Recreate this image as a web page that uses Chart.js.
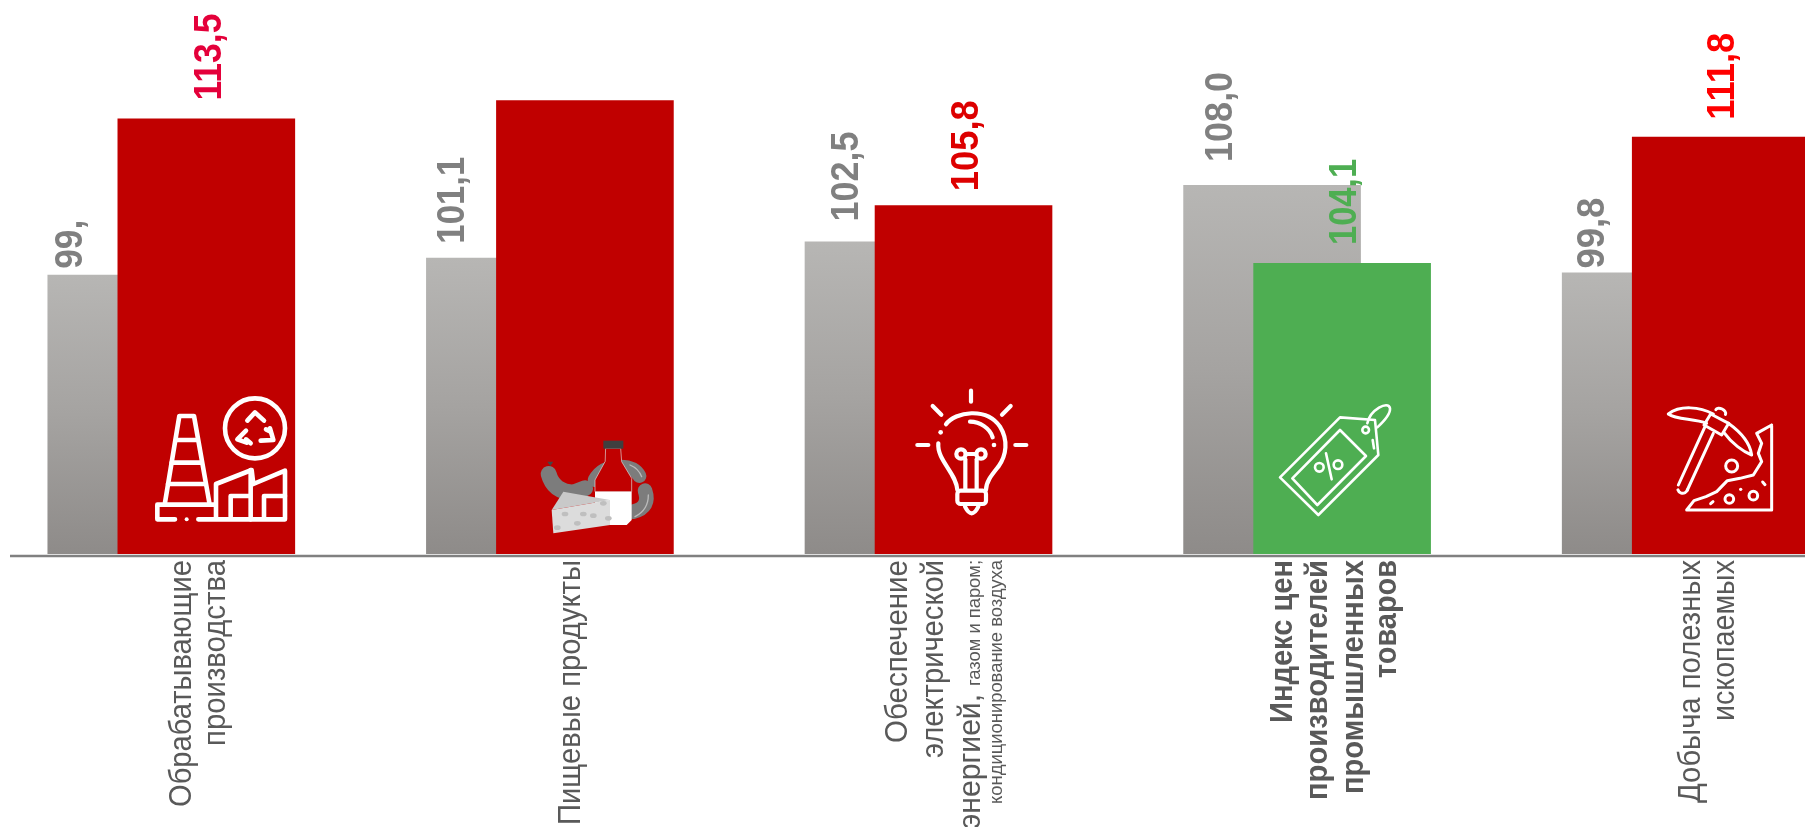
<!DOCTYPE html>
<html><head><meta charset="utf-8">
<style>html,body{margin:0;padding:0;background:#fff;overflow:hidden;width:1805px;height:827px}
canvas{position:absolute;left:-18px;top:0}</style>
<script src="https://cdn.jsdelivr.net/npm/chart.js@4"></script></head>
<body><canvas id="c" width="1893" height="827"></canvas>
<script>
// ---- data ----
const categories = ['Обрабатывающие производства','Пищевые продукты','Обеспечение электрической энергией, газом и паром; кондиционирование воздуха','Индекс цен производителей промышленных товаров','Добыча полезных ископаемых'];
const baseValues = [99.6,101.2,102.7,108.0,99.8];     // grey bars, height as drawn
const currentValues = [114.2,115.9,106.1,100.7,112.5]; // front bars, height as drawn
const baseLabels = ['99,','101,1','102,5','108,0','99,8'];
const currentLabels = ['113,5',null,'105,8','104,1','111,8'];
const tickLines = [
  [['Обрабатывающие'],['производства']],
  [['Пищевые продукты']],
  [['Обеспечение'],['электрической'],['энергией,','газом и паром;'],['кондиционирование воздуха']],
  [['Индекс цен'],['производителей'],['промышленных'],['товаров']],
  [['Добыча полезных'],['ископаемых']]
];
// ---- styling ----
const RED='#C00000', GREEN='#4EAE52', TXT='#595959', GREYTXT='#808080';
const AXIS_MIN=73.5, AXIS_MAX=125.28;
const frontColors=[RED,RED,RED,GREEN,RED];
const currentLabelColors=['#E4003A',null,'#DD0000',GREEN,'#FF0000'];
const baseLabelDx=[-54,-51,-35.5,-40,-47], baseLabelGap=[6,14,20,23,4];
const baseLabelLen=[49,87,90,90,71];
const currentLabelDx=[14.5,0,14,14,13.5], currentLabelGap=[18,0,14,18,17];
const currentLabelLen=[87,0,91,86,87];
const tickBase=[[19.5,54],[30],[-21.5,14,51,73],[-15,20,55.5,89],[14,48.5]];
const tickLen=[[247,186],[265],[183,198,[135,126],244],[163,240,234,118],[243,161]];
const tickBold=[false,false,false,true,false];
const tickFont=31, tickSmall=18, valueFont=38, OFF=18;

function rotText(ctx,t,x,y,font,color,len){ // text reads upward and ends at y
  ctx.save();ctx.translate(x+OFF,y);ctx.rotate(-Math.PI/2);
  ctx.font=font;ctx.fillStyle=color;ctx.textAlign='left';ctx.textBaseline='alphabetic';
  const w=ctx.measureText(t).width;ctx.scale(len/w,1);ctx.translate(-w,0);
  ctx.fillText(t,0,0);ctx.restore();
}
// ---- icons (decoration), in crop units of 1/3 px ----
function P(ctx,ox,oy,lw,color,fn){ctx.save();ctx.translate(ox+OFF,oy);ctx.scale(1/3,1/3);ctx.lineWidth=lw*3;ctx.strokeStyle=color||'#fff';ctx.fillStyle=color||'#fff';ctx.lineCap='round';ctx.lineJoin='round';fn(ctx);ctx.restore();}
function poly(c,pts,close){c.beginPath();pts.forEach((p,i)=>i?c.lineTo(p[0],p[1]):c.moveTo(p[0],p[1]));if(close)c.closePath();c.stroke();}
function circ(c,x,y,r){c.beginPath();c.arc(x,y,r,0,Math.PI*2);c.stroke();}
function dot(c,x,y,r){c.beginPath();c.arc(x,y,r,0,Math.PI*2);c.fill();}
function iconFactory(ctx){P(ctx,140,380,4.6,'#fff',c=>{
  poly(c,[[75,368],[118,108],[162,108],[208,368]]);
  poly(c,[[108,180],[172,180]]);poly(c,[[95,248],[185,248]]);poly(c,[[84,312],[196,312]]);
  poly(c,[[105,418],[52,418],[52,374],[222,374]]);dot(c,140,418,6);
  poly(c,[[175,418],[435,418],[435,272],[340,312],[335,270],[228,312],[228,418]]);
  poly(c,[[332,270],[332,418]]);
  poly(c,[[272,410],[272,348],[330,348]]);poly(c,[[372,410],[372,348],[435,348]]);
  circ(c,345,145,90);
  poly(c,[[322,122],[345,97],[372,122]]);poly(c,[[318,152],[292,178],[320,188]]);poly(c,[[318,178],[332,190]]);
  poly(c,[[362,182],[400,180],[390,145]]);poly(c,[[378,148],[392,155]]);
});}
function iconFood(ctx){P(ctx,520,420,1,'#777',c=>{
  c.lineCap='round';
  c.strokeStyle='#7c7c7c';c.lineWidth=48;c.beginPath();c.moveTo(86,162);c.quadraticCurveTo(100,215,160,218);c.lineTo(195,205);c.stroke();
  c.fillStyle='#444';c.beginPath();c.moveTo(82,125);c.lineTo(100,125);c.lineTo(91,138);c.closePath();c.fill();
  c.strokeStyle='#7c7c7c';c.lineWidth=42;c.beginPath();c.moveTo(224,180);c.quadraticCurveTo(245,140,300,140);c.quadraticCurveTo(345,140,358,168);c.stroke();
  c.lineWidth=44;c.beginPath();c.moveTo(375,212);c.quadraticCurveTo(392,262,340,275);c.stroke();
  c.strokeStyle='#bbb';c.lineWidth=4;c.beginPath();c.moveTo(330,135);c.quadraticCurveTo(355,145,365,170);c.stroke();
  c.beginPath();c.moveTo(385,225);c.quadraticCurveTo(385,270,345,290);c.stroke();
  c.fillStyle=RED;c.beginPath();c.moveTo(258,85);c.lineTo(302,85);c.lineTo(305,125);c.lineTo(335,175);c.lineTo(335,215);c.lineTo(225,215);c.lineTo(225,180);c.lineTo(255,125);c.closePath();c.fill();
  c.strokeStyle='#ddd';c.lineWidth=2;c.stroke();
  c.fillStyle='#3f3f3f';c.fillRect(250,62,60,24);
  c.fillStyle='#fff';c.beginPath();c.moveTo(225,215);c.lineTo(335,215);c.lineTo(335,300);c.lineTo(320,315);c.lineTo(225,315);c.closePath();c.fill();
  c.fillStyle='#c9c9c9';c.beginPath();c.moveTo(95,270);c.lineTo(130,215);c.lineTo(270,240);c.closePath();c.fill();
  c.fillStyle='#dcdcdc';c.beginPath();c.moveTo(95,270);c.lineTo(270,240);c.lineTo(270,315);c.lineTo(100,340);c.closePath();c.fill();
  c.fillStyle='#bfbfbf';[[135,282],[190,282],[220,287],[172,310],[112,323],[265,295],[250,250]].forEach(h=>{c.beginPath();c.ellipse(h[0],h[1],10,7,0,0,7);c.fill();});
});}
function iconBulb(ctx){P(ctx,900,380,4.2,'#fff',c=>{
  poly(c,[[213,32],[213,65]]);poly(c,[[98,78],[124,104]]);poly(c,[[332,78],[306,104]]);poly(c,[[52,195],[85,195]]);poly(c,[[346,195],[379,195]]);
  c.beginPath();c.moveTo(138,133);c.bezierCurveTo(165,95,260,80,300,140);c.bezierCurveTo(325,180,320,225,295,260);c.bezierCurveTo(275,285,258,305,258,330);c.stroke();
  c.beginPath();c.moveTo(115,190);c.bezierCurveTo(110,240,170,280,172,330);c.stroke();
  dot(c,122,157,7);dot(c,282,195,7);
  c.beginPath();c.moveTo(210,125);c.bezierCurveTo(240,125,270,145,278,172);c.stroke();
  c.beginPath();c.roundRect(172,332,86,40,10);c.stroke();
  c.beginPath();c.moveTo(195,380);c.quadraticCurveTo(215,420,235,380);c.stroke();
  circ(c,183,222,14);circ(c,243,222,14);poly(c,[[197,222],[229,222]]);
  poly(c,[[196,238],[196,330]]);poly(c,[[230,238],[230,330]]);
});}
function iconTag(ctx){P(ctx,1260,390,2.6,'#fff',c=>{
  poly(c,[[60,262],[240,82],[345,90],[355,195],[175,375]],true);
  poly(c,[[97,265],[240,120],[318,198],[172,345]],true);
  circ(c,178,232,13);circ(c,234,224,13);poly(c,[[198,190],[215,268]]);
  circ(c,317,120,10);poly(c,[[338,150],[342,175]]);
  c.beginPath();c.moveTo(322,100);c.bezierCurveTo(330,60,385,30,390,55);c.bezierCurveTo(392,75,365,100,352,112);c.stroke();
});}
function iconPick(ctx){P(ctx,1650,390,3,'#fff',c=>{
  c.beginPath();c.moveTo(55,72);c.bezierCurveTo(90,45,150,50,190,72);c.moveTo(235,100);c.bezierCurveTo(270,125,300,160,305,195);c.bezierCurveTo(280,185,245,160,222,128);c.moveTo(170,100);c.bezierCurveTo(130,85,80,90,55,72);c.stroke();
  poly(c,[[182,72],[236,100],[215,135],[162,105]],true);
  c.beginPath();c.ellipse(212,66,16,10,0.45,Math.PI,0);c.stroke();
  poly(c,[[165,110],[85,285]]);poly(c,[[190,130],[112,300]]);
  c.beginPath();c.arc(98,295,15,0.3,Math.PI-0.3);c.stroke();
  poly(c,[[365,105],[365,360],[110,360],[132,332],[168,320],[200,305],[232,272],[270,265],[310,255],[335,215],[325,190],[335,160],[320,130],[365,105]]);
  circ(c,245,228,18);circ(c,238,327,13);circ(c,310,317,13);
  dot(c,272,298,5);poly(c,[[338,276],[345,284]]);poly(c,[[182,341],[189,335]]);
});}

const overlay={id:'overlay',
  beforeDatasetsDraw(chart){ // grey behind, front bars over it
    chart.getDatasetMeta(0).controller.draw();
    chart.getDatasetMeta(1).controller.draw();
    return false;
  },
  afterDraw(chart){
    const ctx=chart.ctx,xs=chart.scales.x;
    // axis line
    ctx.save();ctx.strokeStyle='#808080';ctx.lineWidth=2.4;ctx.beginPath();ctx.moveTo(10+OFF,556);ctx.lineTo(chart.width,556);ctx.stroke();ctx.restore();
    // value labels
    const m0=chart.getDatasetMeta(0).data,m1=chart.getDatasetMeta(1).data;
    const vf='bold '+valueFont+'px "Liberation Sans"';
    baseLabels.forEach((t,i)=>{rotText(ctx,t,m0[i].x-OFF+baseLabelDx[i],m0[i].y-baseLabelGap[i]-baseLabelLen[i],vf,GREYTXT,baseLabelLen[i]);});
    currentLabels.forEach((t,i)=>{if(t)rotText(ctx,t,m1[i].x-OFF+currentLabelDx[i],m1[i].y-currentLabelGap[i]-currentLabelLen[i],vf,currentLabelColors[i],currentLabelLen[i]);});
    // category labels
    tickLines.forEach((lines,i)=>{
      const cx=xs.getPixelForValue(i)-OFF;
      lines.forEach((runs,j)=>{
        const x=cx+tickBase[i][j], small=(i===2&&j===3);
        const weight=tickBold[i]?'bold ':'';
        if(runs.length===2){
          rotText(ctx,runs[1],x,560,tickSmall+'px "Liberation Sans"',TXT,tickLen[i][j][1]);
          rotText(ctx,runs[0],x,560+tickLen[i][j][1]+8,tickFont+'px "Liberation Sans"',TXT,tickLen[i][j][0]);
        }else{
          rotText(ctx,runs[0],x,560,weight+(small?tickSmall:tickFont)+'px "Liberation Sans"',TXT,tickLen[i][j]);
        }
      });
    });
    iconFactory(ctx);iconFood(ctx);iconBulb(ctx);iconTag(ctx);iconPick(ctx);
  }
};
function greyGradient(ctx){
  const chart=ctx.chart,y=chart.scales.y;
  if(!y||ctx.raw==null)return '#aaa';
  const top=y.getPixelForValue(ctx.raw),bot=y.bottom;
  if(!isFinite(top)||!isFinite(bot))return '#aaa';
  const g=chart.ctx.createLinearGradient(0,top,0,bot);
  g.addColorStop(0,'#B7B6B4');g.addColorStop(0.5,'#A5A3A1');g.addColorStop(1,'#8E8B89');
  return g;
}
new Chart(document.getElementById('c'),{
  type:'bar',
  data:{labels:categories,datasets:[
    {label:'База',data:baseValues,backgroundColor:greyGradient,base:AXIS_MIN},
    {label:'Текущий',data:currentValues,backgroundColor:frontColors,base:AXIS_MIN}
  ]},
  plugins:[overlay],
  options:{responsive:false,animation:false,devicePixelRatio:1,
    categoryPercentage:0.37,barPercentage:2.536,
    layout:{padding:{top:0,left:0,right:0,bottom:273}},
    plugins:{legend:{display:false},tooltip:{enabled:false},title:{display:false}},
    scales:{
      x:{display:false,grid:{display:false},ticks:{autoSkip:false}},
      y:{display:false,min:AXIS_MIN,max:AXIS_MAX}
    }
  }
});
</script></body></html>
